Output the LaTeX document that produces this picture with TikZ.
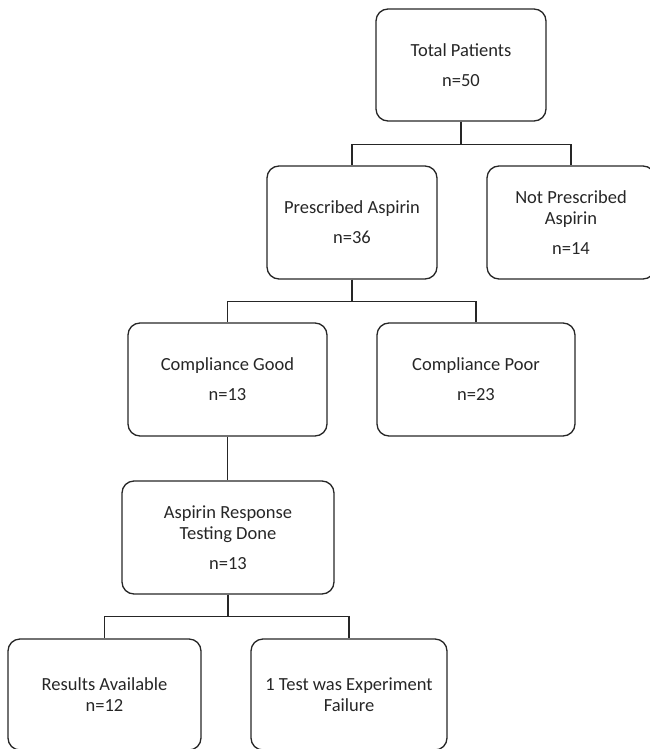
\documentclass[tikz,border=0pt]{standalone}
\usepackage{fontspec}
\setmainfont{Carlito}
\begin{document}
\begin{tikzpicture}[x=1pt,y=-1pt,
  box/.style={draw=black!85, line width=1.3pt, rounded corners=12pt, align=center,
    inner sep=0pt, text=black!85, font=\fontsize{18.5}{21}\selectfont},
  link/.style={draw=black!85, line width=1.6pt}]
\useasboundingbox (0,0) rectangle (649,749);
\node[box, minimum width=170pt, minimum height=112pt] (total) at (461,65) {Total Patients\\[9pt]n=50};
\node[box, minimum width=170pt, minimum height=113pt] (presc) at (352,222.5) {Prescribed Aspirin\\[9pt]n=36};
\node[box, minimum width=168pt, minimum height=113pt] (notpresc) at (571,222.5) {Not Prescribed\\Aspirin\\[9pt]n=14};
\node[box, minimum width=199pt, minimum height=113pt] (good) at (227.5,379.5) {Compliance Good\\[9pt]n=13};
\node[box, minimum width=198pt, minimum height=113pt] (poor) at (476,379.5) {Compliance Poor\\[9pt]n=23};
\node[box, minimum width=212pt, minimum height=113pt] (test) at (228,537.5) {Aspirin Response\\Testing Done\\[9pt]n=13};
\node[box, minimum width=193pt, minimum height=111pt] (results) at (104.5,694.5) {Results Available\\n=12};
\node[box, minimum width=196pt, minimum height=111pt] (fail) at (349,694.5) {1 Test was Experiment\\Failure};
\draw[link] (total.south) -- ++(0,23) -| (presc.north);
\draw[link] (total.south) -- ++(0,23) -| (notpresc.north);
\draw[link] (presc.south) -- ++(0,22) -| (good.north);
\draw[link] (presc.south) -- ++(0,22) -| (poor.north);
\draw[link] (good.south) -- (good.south |- test.north);
\draw[link] (test.south) -- ++(0,22) -| (results.north);
\draw[link] (test.south) -- ++(0,22) -| (fail.north);
\end{tikzpicture}
\end{document}
